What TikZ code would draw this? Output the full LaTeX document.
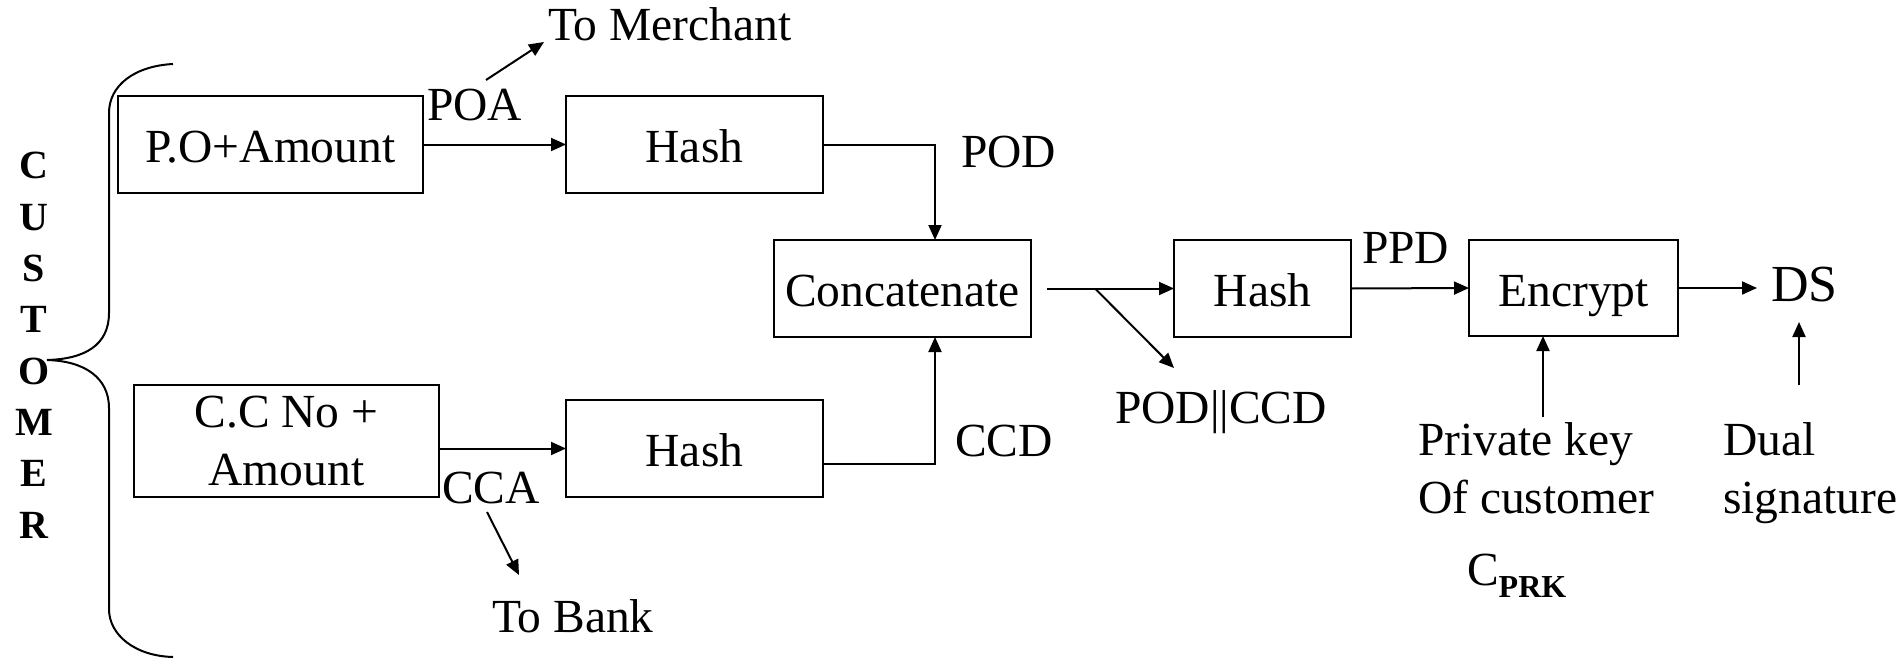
\documentclass[tikz,border=0pt]{standalone}
\usepackage{fontspec}
\setmainfont{Liberation Serif}
\usetikzlibrary{arrows.meta,calc}
\begin{document}
\begin{tikzpicture}[x=1pt,y=-1pt,
  every node/.style={inner sep=0pt, outer sep=0pt, font=\fontsize{47.5}{58}\selectfont},
  box/.style={draw, line width=2pt, text height=36pt, text depth=0pt},
  arr/.style={line width=2pt, -{Triangle[length=15pt,width=13pt]}},
  ln/.style={line width=2pt},
  lbl/.style={anchor=base west},
]
\useasboundingbox (0,0) rectangle (1903,659);

% processing boxes
\node[box, minimum width=305pt, minimum height=97pt] (po) at (270.5,144.5) {P.O+Amount};
\node[box, minimum width=257pt, minimum height=97pt] (h1) at (694.5,144.5) {Hash};
\node[draw, line width=2pt, minimum width=305pt, minimum height=112pt, align=center] (cc) at (286.5,441) {C.C No +\\Amount};
\node[box, minimum width=257pt, minimum height=97pt] (h3) at (694.5,448.5) {Hash};
\node[box, minimum width=257pt, minimum height=97pt] (cat) at (902.5,288.5) {Concatenate};
\node[box, minimum width=177pt, minimum height=97pt] (h2) at (1262.5,288.5) {Hash};
\node[box, minimum width=209pt, minimum height=96pt] (enc) at (1573.5,288) {Encrypt};

% labels (multi-line labels sit on the baseline of their last line)
\node[lbl] (poa) at (427,120) {POA};
\node[lbl] (tm) at (548,40) {To Merchant};
\node[lbl] (cca) at (442,503) {CCA};
\node[lbl] (tb) at (492,632) {To Bank};
\node[lbl] (pod) at (961,167) {POD};
\node[lbl] (ccd) at (955,456) {CCD};
\node[lbl] (pc) at (1115,423) {POD||CCD};
\node[lbl] (ppd) at (1362,263) {PPD};
\node[lbl, font=\fontsize{52}{60}\selectfont] (ds) at (1771,301) {DS};
\node[lbl, align=left] (pk) at (1418,513) {Private key\\Of customer};
\node[lbl, align=left] (dual) at (1723,513) {Dual\\signature};
\node[lbl] (cprk) at (1467,585) {C\raisebox{-12pt}{\fontsize{32}{38}\selectfont\bfseries PRK}};
\node[anchor=base, align=center, font=\fontsize{40}{51.3}\selectfont\bfseries] (cust) at (34,538) {C\\U\\S\\T\\O\\M\\E\\R};

% free ends of the side arrows
\coordinate (poaA) at (486,80);
\coordinate (poaB) at (544,42);
\coordinate (ccaA) at (487,512);
\coordinate (ccaB) at (519,575);
\coordinate (split) at (1095,288.5);
\coordinate (splitEnd) at (1174,368);
\coordinate (pkTop) at (1543,417);
\coordinate (dsFoot) at (1799,385);
\coordinate (dsTip) at (1799,322);

% connectors
\draw[arr] (po.east) -- (h1.west);
\draw[arr] (cc.east |- h3.west) -- (h3.west);
\draw[arr] (h1.east) -| ([xshift=32.5pt]cat.north);
\draw[arr] ([yshift=-15.5pt]h3.east) -| ([xshift=32.5pt]cat.south);
\draw[arr] ([xshift=16pt]cat.east) -- (h2.west);
\draw[arr] (split) -- (splitEnd);
\draw[arr] (h2.east) -- (enc.west);
\draw[arr] (enc.east) -- ($(enc.east -| ds.west)+(-14,0)$);
\draw[arr] (pkTop) -- (pkTop |- enc.south);
\draw[arr] (dsFoot) -- (dsTip);
\draw[arr] (poaA) -- (poaB);
\draw[arr] (ccaA) -- (ccaB);

% customer brace
\draw[ln] (173,64) .. controls (135,66) and (109,85) .. (109,113) -- (109,313)
  .. controls (109,345) and (85,359) .. (47,360)
  .. controls (85,361) and (109,378) .. (109,408) -- (109,609)
  .. controls (109,635) and (135,656) .. (173,657);
\end{tikzpicture}
\end{document}
